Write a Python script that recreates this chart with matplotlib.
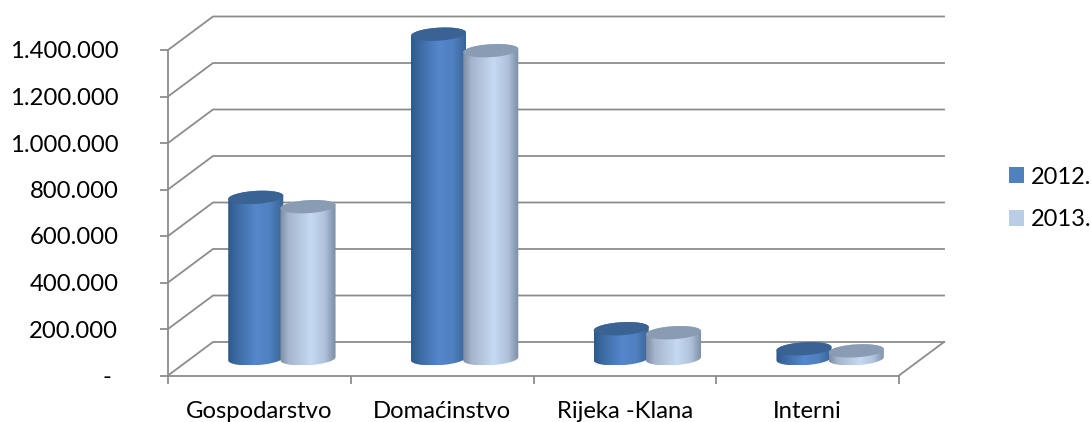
import numpy as np
import matplotlib
matplotlib.use("Agg")
import matplotlib.pyplot as plt
from matplotlib.colors import LinearSegmentedColormap
from matplotlib.patches import Patch, Polygon

plt.rcParams['font.family'] = ['Lato', 'DejaVu Sans']

categories = ['Gospodarstvo', 'Domaćinstvo', 'Rijeka -Klana', 'Interni']
series_names = ['2012.', '2013.']
values_2012 = [694000, 1396000, 129000, 43000]
values_2013 = [654000, 1325000, 112000, 34000]
y_ticks = [0, 200000, 400000, 600000, 800000, 1000000, 1200000, 1400000]
y_labels = ['- ', '200.000', '400.000', '600.000', '800.000', '1.000.000', '1.200.000', '1.400.000']

W, H = 1091, 422
GREY = '#8c8c8c'

fig = plt.figure(figsize=(W / 100, H / 100), dpi=100)
ax = fig.add_axes([168 / W, (H - 375.5) / H, (899 - 168) / W, (375.5 - 50) / H])
ax.patch.set_visible(False)

# profondeur de la vue oblique, en unites de donnees
DX = 45 / 182.75
DY = 33.5 / 46.5 * 200000


def cylinder(x, h, cmap, capcolor, z):
    # base au milieu du plancher
    cx = x + 0.5 * DX
    y0 = 0.5 * DY
    a = 0.146
    bx = 0.15 * DX
    by = 0.2 * DY
    ext = np.hypot(a, bx)
    ts = np.arctan2(bx, a)
    t_low = np.linspace(ts + np.pi, ts + 2 * np.pi, 60)
    t_up = np.linspace(ts, ts + np.pi, 60)
    low = np.c_[cx + a * np.cos(t_low) + bx * np.sin(t_low), y0 + by * np.sin(t_low)]
    up = np.c_[cx + a * np.cos(t_up) + bx * np.sin(t_up), y0 + h + by * np.sin(t_up)]
    body = Polygon(np.r_[low, up], closed=True, transform=ax.transData, fc='none', ec='none')
    ax.add_patch(body)
    im = ax.imshow(np.linspace(0, 1, 128).reshape(1, -1), cmap=cmap, aspect='auto',
                   extent=[cx - ext, cx + ext, y0 - by, y0 + h + by], zorder=z)
    # sinon l'image est coupee au cadre des axes
    im.set_clip_box(fig.bbox)
    im.set_clip_path(body)
    t = np.linspace(0, 2 * np.pi, 120)
    cap = np.c_[cx + a * np.cos(t) + bx * np.sin(t), y0 + h + by * np.sin(t)]
    ax.add_patch(Polygon(cap, closed=True, fc=capcolor, ec='none', zorder=z + 0.1, clip_on=False))


dark = LinearSegmentedColormap.from_list('d', [(0, '#2e5a8c'), (0.2, '#3f6ea8'), (0.5, '#5587cb'),
                                               (0.75, '#4f80c0'), (1, '#386292')])
light = LinearSegmentedColormap.from_list('l', [(0, '#7c8ca1'), (0.15, '#a5b5cc'), (0.55, '#c5d9f2'),
                                                (0.8, '#b0c3dd'), (1, '#7b8ca3')])

# murs
for v in y_ticks:
    ax.plot([0, DX, 4 + DX], [v, v + DY, v + DY], color=GREY, lw=1.3, clip_on=False, zorder=1)
ax.plot([4, 4 + DX], [0, DY], color=GREY, lw=1.3, clip_on=False, zorder=1)

for i in range(len(categories)):
    cylinder(i + 0.5 - 0.143, values_2012[i], dark, '#3a6394', 3 + i)
    cylinder(i + 0.5 + 0.143, values_2013[i], light, '#8a9cb3', 3.5 + i)

ax.set_xlim(0, 4)
ax.set_ylim(0, 1400000)
for s in ['top', 'right']:
    ax.spines[s].set_visible(False)
for s in ['left', 'bottom']:
    ax.spines[s].set_color(GREY)
    ax.spines[s].set_linewidth(1.3)

ax.set_yticks(y_ticks)
ax.set_yticklabels(y_labels, fontsize=17.2, color='black', va='center_baseline')
ax.tick_params(axis='y', length=5.8, width=1.3, color=GREY, pad=30)
ax.set_xticks(range(5))
ax.set_xticklabels([])
ax.tick_params(axis='x', which='major', length=5.8, width=1.3, color=GREY)
ax.set_xticks(np.arange(len(categories)) + 0.5, minor=True)
ax.set_xticklabels(categories, minor=True, fontsize=17.2, color='black')
ax.tick_params(axis='x', which='minor', length=0, pad=18.7)

handles = [Patch(fc='#4f81bd', ec='none'), Patch(fc='#b9cde5', ec='none')]
fig.legend(handles, series_names, loc='center left', bbox_to_anchor=(1009 / W, (H - 198.5) / H),
           frameon=False, fontsize=17, handlelength=0.64, handleheight=0.64, handletextpad=0.3,
           labelspacing=0.93, borderpad=0, borderaxespad=0)

fig.savefig('out.png', dpi=100)
